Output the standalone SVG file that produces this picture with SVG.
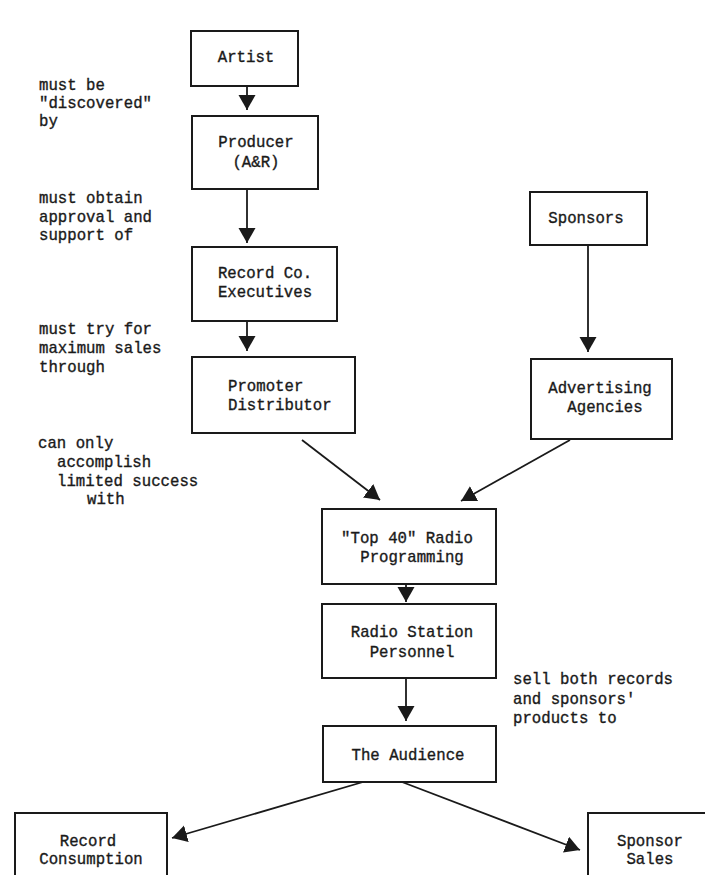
<svg xmlns="http://www.w3.org/2000/svg" width="705" height="875" viewBox="0 0 705 875">
  <style>
    .box { fill: #ffffff; stroke: #1a1a1a; stroke-width: 2; }
    .lbl { font-family: "Liberation Mono", "DejaVu Sans Mono", monospace; font-size: 15.7px; fill: #1a1a1a; stroke: #1a1a1a; stroke-width: 0.35; }
    .mid { text-anchor: middle; }
    .edge { stroke: #1a1a1a; stroke-width: 1.8; fill: none; marker-end: url(#head); }
  </style>
  <defs>
    <marker id="head" markerUnits="userSpaceOnUse" markerWidth="16" markerHeight="18" refX="15" refY="8.5" orient="auto">
      <path d="M0,0 L15,8.5 L0,17 z" fill="#1a1a1a"/>
    </marker>
  </defs>
  <rect width="705" height="875" fill="#ffffff"/>

  <!-- connectors -->
  <g id="connectors">
    <line class="edge" x1="247" y1="86" x2="247" y2="110"/>
    <line class="edge" x1="247" y1="189" x2="247" y2="243"/>
    <line class="edge" x1="247" y1="321" x2="247" y2="351"/>
    <line class="edge" x1="588" y1="246" x2="588" y2="352"/>
    <line class="edge" x1="302" y1="440" x2="380" y2="500"/>
    <line class="edge" x1="570" y1="440" x2="461" y2="501"/>
    <line class="edge" x1="406" y1="584" x2="406" y2="602"/>
    <line class="edge" x1="406" y1="678" x2="406" y2="721"/>
    <line class="edge" x1="363" y1="782" x2="172" y2="838"/>
    <line class="edge" x1="402" y1="782" x2="580" y2="850"/>
  </g>

  <!-- side notes -->
  <g id="notes" class="lbl">
    <text x="39" y="90">must be</text>
    <text x="39" y="108">"discovered"</text>
    <text x="39" y="126">by</text>
    <text x="39" y="203">must obtain</text>
    <text x="39" y="222">approval and</text>
    <text x="39" y="240">support of</text>
    <text x="39" y="334">must try for</text>
    <text x="39" y="353">maximum sales</text>
    <text x="39" y="372">through</text>
    <text x="38" y="448">can only</text>
    <text x="57" y="467">accomplish</text>
    <text x="57" y="486">limited success</text>
    <text x="87" y="504">with</text>
    <text x="513" y="684">sell both records</text>
    <text x="513" y="704">and sponsors'</text>
    <text x="513" y="723">products to</text>
  </g>

  <g id="artist">
    <rect class="box" x="191" y="31" width="107" height="55"/>
    <text class="lbl mid" x="246" y="62">Artist</text>
  </g>
  <g id="producer">
    <rect class="box" x="192" y="116" width="126" height="73"/>
    <text class="lbl mid" x="256" y="147">Producer</text>
    <text class="lbl mid" x="256" y="167">(A&amp;R)</text>
  </g>
  <g id="record-co">
    <rect class="box" x="192" y="247" width="145" height="74"/>
    <text class="lbl mid" x="265" y="278">Record Co.</text>
    <text class="lbl mid" x="265" y="297">Executives</text>
  </g>
  <g id="promoter">
    <rect class="box" x="192" y="357" width="163" height="76"/>
    <text class="lbl" x="228" y="391">Promoter</text>
    <text class="lbl" x="228" y="410">Distributor</text>
  </g>
  <g id="sponsors">
    <rect class="box" x="530" y="192" width="117" height="53"/>
    <text class="lbl mid" x="586" y="223">Sponsors</text>
  </g>
  <g id="advertising">
    <rect class="box" x="531" y="359" width="141" height="80"/>
    <text class="lbl mid" x="600" y="393">Advertising</text>
    <text class="lbl mid" x="605" y="412">Agencies</text>
  </g>
  <g id="top40">
    <rect class="box" x="322" y="509" width="174" height="75"/>
    <text class="lbl mid" x="407" y="543">"Top 40" Radio</text>
    <text class="lbl mid" x="412" y="562">Programming</text>
  </g>
  <g id="station">
    <rect class="box" x="322" y="604" width="174" height="74"/>
    <text class="lbl mid" x="412" y="637">Radio Station</text>
    <text class="lbl mid" x="412" y="657">Personnel</text>
  </g>
  <g id="audience">
    <rect class="box" x="323" y="726" width="173" height="56"/>
    <text class="lbl mid" x="408" y="760">The Audience</text>
  </g>
  <g id="record-consumption">
    <rect class="box" x="15" y="813" width="152" height="80"/>
    <text class="lbl mid" x="88" y="846">Record</text>
    <text class="lbl mid" x="91" y="864">Consumption</text>
  </g>
  <g id="sponsor-sales">
    <rect class="box" x="588" y="813" width="140" height="80"/>
    <text class="lbl mid" x="650" y="846">Sponsor</text>
    <text class="lbl mid" x="650" y="864">Sales</text>
  </g>
</svg>
